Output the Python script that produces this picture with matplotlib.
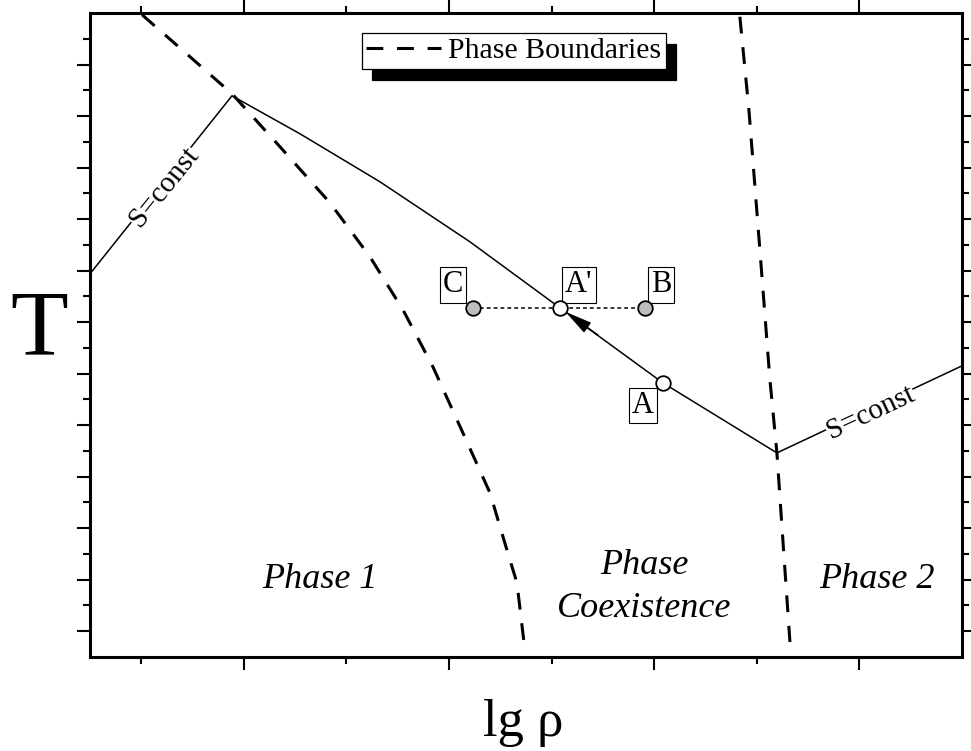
import numpy as np
import matplotlib
matplotlib.use('Agg')
import matplotlib.pyplot as plt
from matplotlib.ticker import FixedLocator

plt.rcParams['font.family'] = ['Liberation Serif', 'DejaVu Serif']

# path at constant entropy (lg rho, T) - schematic units
path_x = [0.0, 1.384, 2.047, 2.827, 3.704, 4.581, 5.585, 6.696, 8.499]
path_y = [7.437, 10.893, 10.155, 9.223, 8.058, 6.777, 5.320, 3.961, 5.650]

# phase boundaries
bnd1_x = [0.507, 0.975, 1.384, 1.852, 2.339, 2.729, 3.051, 3.343, 3.635, 3.899, 4.064, 4.162, 4.230]
bnd1_y = [12.466, 11.650, 10.932, 9.903, 8.816, 7.767, 6.738, 5.631, 4.350, 3.184, 2.078, 1.437, 0.291]
bnd2_x = [6.335, 6.423, 6.530, 6.628, 6.696, 6.754, 6.823]
bnd2_y = [12.427, 10.621, 7.903, 5.379, 3.961, 2.272, 0.291]

# states
pt_names = ['C', "A'", 'B', 'A']
pt_x = [3.733, 4.581, 5.409, 5.585]
pt_y = [6.777, 6.777, 6.777, 5.320]
pt_fill = ['#bdbdbd', 'white', '#bdbdbd', 'white']

fig = plt.figure(figsize=(9.71, 7.51), dpi=100)
ax = fig.add_axes([0.0927, 0.1252, 0.898, 0.8575])
ax.set_xlim(0, 8.5)
ax.set_ylim(0, 12.5)

# boundaries
ax.plot(bnd1_x, bnd1_y, color='black', lw=2.2, dashes=(5.5, 4.5), label='Phase Boundaries')
ax.plot(bnd2_x, bnd2_y, color='black', lw=2.2, dashes=(5.5, 4.5))

# isentrope
ax.plot(path_x, path_y, color='black', lw=1.1)

# isochoric line C - B
ax.plot([pt_x[0], pt_x[2]], [pt_y[0], pt_y[2]], color='black', lw=1.1, dashes=(2.5, 2.0))

# arrow A -> A'
ax.annotate('', xy=(pt_x[1], pt_y[1]), xytext=(4.95, 6.25),
            arrowprops=dict(arrowstyle='-|>,head_length=1.1,head_width=0.25',
                            mutation_scale=15, color='black', lw=1.1,
                            shrinkA=0, shrinkB=5))

for i in range(4):
    ax.plot(pt_x[i], pt_y[i], 'o', ms=10.5, mfc=pt_fill[i], mec='black', mew=1.3, zorder=5)

# point labels
offs = {'C': (-7, 6.0, 'right', 'bottom'),
        "A'": (3.6, 6.0, 'left', 'bottom'),
        'B': (4.3, 6.0, 'left', 'bottom'),
        'A': (-6.5, -6.0, 'right', 'top')}
for i, nm in enumerate(pt_names):
    dx, dy, ha, va = offs[nm]
    ax.annotate(nm, (pt_x[i], pt_y[i]), xytext=(dx, dy), textcoords='offset points',
                ha=ha, va=va, fontsize=22,
                bbox=dict(boxstyle='square,pad=0.1', fc='white', ec='black', lw=0.8))

# S=const labels
ax.text(0.72, 9.12, 'S=const', rotation=51, fontsize=21, ha='center', va='center',
        rotation_mode='anchor', bbox=dict(fc='white', ec='none', pad=0.5))
ax.text(7.61, 4.74, 'S=const', rotation=25, fontsize=21, ha='center', va='center',
        rotation_mode='anchor', bbox=dict(fc='white', ec='none', pad=0.5))

# phase regions
ax.text(2.24, 1.50, 'Phase 1', fontsize=26, style='italic', ha='center', va='center')
ax.text(5.40, 1.36, 'Phase\nCoexistence', fontsize=26, style='italic', ha='center',
        va='center', linespacing=1.4)
ax.text(7.67, 1.50, 'Phase 2', fontsize=26, style='italic', ha='center', va='center')

leg = ax.legend(loc='center', bbox_to_anchor=(0.486, 0.941), fontsize=21.5, frameon=True,
                fancybox=False, framealpha=1, edgecolor='black', handlelength=2.5,
                handletextpad=0.25, borderpad=0.15, borderaxespad=0,
                shadow=dict(ox=7.5, oy=-8, fc='black', ec='black', alpha=1))
leg.get_frame().set_linewidth(0.9)

# axes styling
for s in ax.spines.values():
    s.set_linewidth(2.2)
ax.xaxis.set_major_locator(FixedLocator([1.5, 3.5, 5.5, 7.5]))
ax.xaxis.set_minor_locator(FixedLocator([0.5, 2.5, 4.5, 6.5]))
ax.yaxis.set_major_locator(FixedLocator(np.arange(0.5, 12.0, 1.0)))
ax.yaxis.set_minor_locator(FixedLocator(np.arange(1.0, 12.5, 1.0)))
ax.tick_params(which='both', direction='out', top=True, right=True,
               labelbottom=False, labelleft=False, width=1.5)
ax.tick_params(which='major', length=9.5)
ax.tick_params(which='minor', length=5)

ax.set_xlabel('lg ρ', fontsize=38)
ax.xaxis.set_label_coords(0.4966, -0.065)
ax.set_ylabel('T', fontsize=68, rotation=0, ha='center', va='center')
ax.yaxis.set_label_coords(-0.0585, 0.505)

fig.savefig('out.png', dpi=100)
